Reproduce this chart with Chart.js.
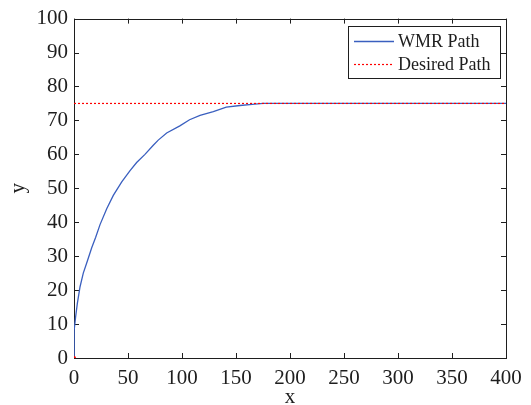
<!DOCTYPE html>
<html>
<head>
<meta charset="utf-8">
<script src="https://cdn.jsdelivr.net/npm/chart.js@4.4.1/dist/chart.umd.min.js"></script>
<style>
  body { margin: 0; background: #fff; }
</style>
</head>
<body>
<canvas id="myChart" width="531" height="405"></canvas>
<script>
// values
const wmrX = [0, 0, 0.3, 1.5, 3.1, 5.6, 8.6, 12.3, 16.4, 20, 24.1, 30.3, 36.4, 44.2, 51.9, 58, 65.7, 73.4, 78, 85.8, 98, 107, 116.7, 129, 141, 153.7, 165, 175, 400];
const wmrY = [0, 2.4, 8.2, 12.1, 16.1, 21, 25, 28.5, 32.5, 35.5, 39.3, 44, 47.9, 51.9, 55.2, 57.6, 60, 62.7, 64.2, 66.3, 68.4, 70.2, 71.5, 72.6, 73.9, 74.4, 74.7, 75, 75];
const desiredX = [0, 400];
const desiredY = [75, 75];
const startX = [0];
const startY = [0];

const xTicks = [0, 50, 100, 150, 200, 250, 300, 350, 400];
const yTicks = [0, 10, 20, 30, 40, 50, 60, 70, 80, 90, 100];

const FONT = '"Liberation Serif"';
const INK = "#1e1e1e";

const toPoints = (xs, ys) => xs.map((x, i) => ({ x: x, y: ys[i] }));

// MATLAB-ish box with inward ticks on all four sides
const boxTicks = {
  id: "boxTicks",
  beforeDatasetsDraw(chart) {
    const { ctx, chartArea: a, scales } = chart;
    const len = 5;
    ctx.save();
    ctx.strokeStyle = INK;
    ctx.lineWidth = 1;
    ctx.beginPath();
    xTicks.forEach((v) => {
      const px = Math.round(scales.x.getPixelForValue(v)) + 0.5;
      ctx.moveTo(px, a.bottom); ctx.lineTo(px, a.bottom - len);
      ctx.moveTo(px, a.top); ctx.lineTo(px, a.top + len);
    });
    yTicks.forEach((v) => {
      const py = Math.round(scales.y.getPixelForValue(v)) + 0.5;
      ctx.moveTo(a.left, py); ctx.lineTo(a.left + len, py);
      ctx.moveTo(a.right, py); ctx.lineTo(a.right - len, py);
    });
    ctx.stroke();
    ctx.strokeRect(Math.round(a.left) + 0.5, Math.round(a.top) + 0.5,
      Math.round(a.right - a.left), Math.round(a.bottom - a.top));
    ctx.restore();
  },
};

// boxed legend inside the top-right corner of the axes
const boxLegend = {
  id: "boxLegend",
  afterDraw(chart) {
    const { ctx, chartArea: a } = chart;
    const items = chart.data.datasets.filter((d) => d.inLegend);
    const w = 152, rowH = 23;
    const x0 = a.right - 6 - w, y0 = a.top + 7;
    const h = rowH * items.length + 6;
    ctx.save();
    ctx.fillStyle = "#fff";
    ctx.fillRect(x0, y0, w, h);
    ctx.strokeStyle = INK;
    ctx.lineWidth = 1;
    ctx.strokeRect(Math.round(x0) + 0.5, Math.round(y0) + 0.5, w, h);
    ctx.font = "18px " + FONT;
    ctx.textBaseline = "middle";
    items.forEach((d, i) => {
      const cy = Math.round(y0 + 15 + i * rowH) + 0.5;
      ctx.strokeStyle = d.borderColor;
      ctx.lineWidth = d.borderWidth;
      ctx.setLineDash(d.borderDash || []);
      ctx.beginPath();
      ctx.moveTo(x0 + 6, cy);
      ctx.lineTo(x0 + 46, cy);
      ctx.stroke();
      ctx.setLineDash([]);
      ctx.fillStyle = INK;
      ctx.fillText(d.label, x0 + 50, cy + 1);
    });
    ctx.restore();
  },
};

const chart = new Chart(document.getElementById("myChart"), {
  type: "line",
  plugins: [boxTicks, boxLegend],
  data: {
    datasets: [
      {
        label: "WMR Path",
        inLegend: true,
        data: toPoints(wmrX, wmrY),
        borderColor: "#3a5fbf",
        borderWidth: 1.3,
        pointRadius: 0,
        tension: 0,
        order: 2,
      },
      {
        label: "Desired Path",
        inLegend: true,
        data: toPoints(desiredX, desiredY),
        borderColor: "#ff0000",
        borderWidth: 1.2,
        borderDash: [2, 2],
        pointRadius: 0,
        order: 1,
      },
      {
        label: "start",
        data: toPoints(startX, startY),
        showLine: false,
        pointRadius: 2,
        pointBackgroundColor: "#ff0000",
        pointBorderWidth: 0,
        order: 0,
      },
    ],
  },
  options: {
    responsive: false,
    animation: false,
    layout: { padding: { left: 6, right: 25, top: 18, bottom: 0 } },
    plugins: {
      legend: { display: false },
      tooltip: { enabled: false },
    },
    scales: {
      x: {
        type: "linear",
        min: 0,
        max: 400,
        grid: { display: false, drawTicks: false },
        border: { display: false },
        afterFit: (s) => { s.height = 47; },
        afterBuildTicks: (s) => { s.ticks = xTicks.map((v) => ({ value: v })); },
        ticks: {
          color: INK,
          padding: 8,
          maxRotation: 0,
          font: { family: FONT, size: 21 },
        },
        title: {
          display: true,
          text: "x",
          color: INK,
          padding: { top: 0, bottom: -3 },
          font: { family: FONT, size: 21, lineHeight: 1 },
        },
      },
      y: {
        type: "linear",
        min: 0,
        max: 100,
        grid: { display: false, drawTicks: false },
        border: { display: false },
        afterFit: (s) => { s.width = 68; },
        afterBuildTicks: (s) => { s.ticks = yTicks.map((v) => ({ value: v })); },
        ticks: {
          color: INK,
          padding: 6,
          font: { family: FONT, size: 21 },
        },
        title: {
          display: true,
          text: "y",
          color: INK,
          padding: { top: 2, bottom: 0 },
          font: { family: FONT, size: 21, lineHeight: 1 },
        },
      },
    },
  },
});
</script>
</body>
</html>
